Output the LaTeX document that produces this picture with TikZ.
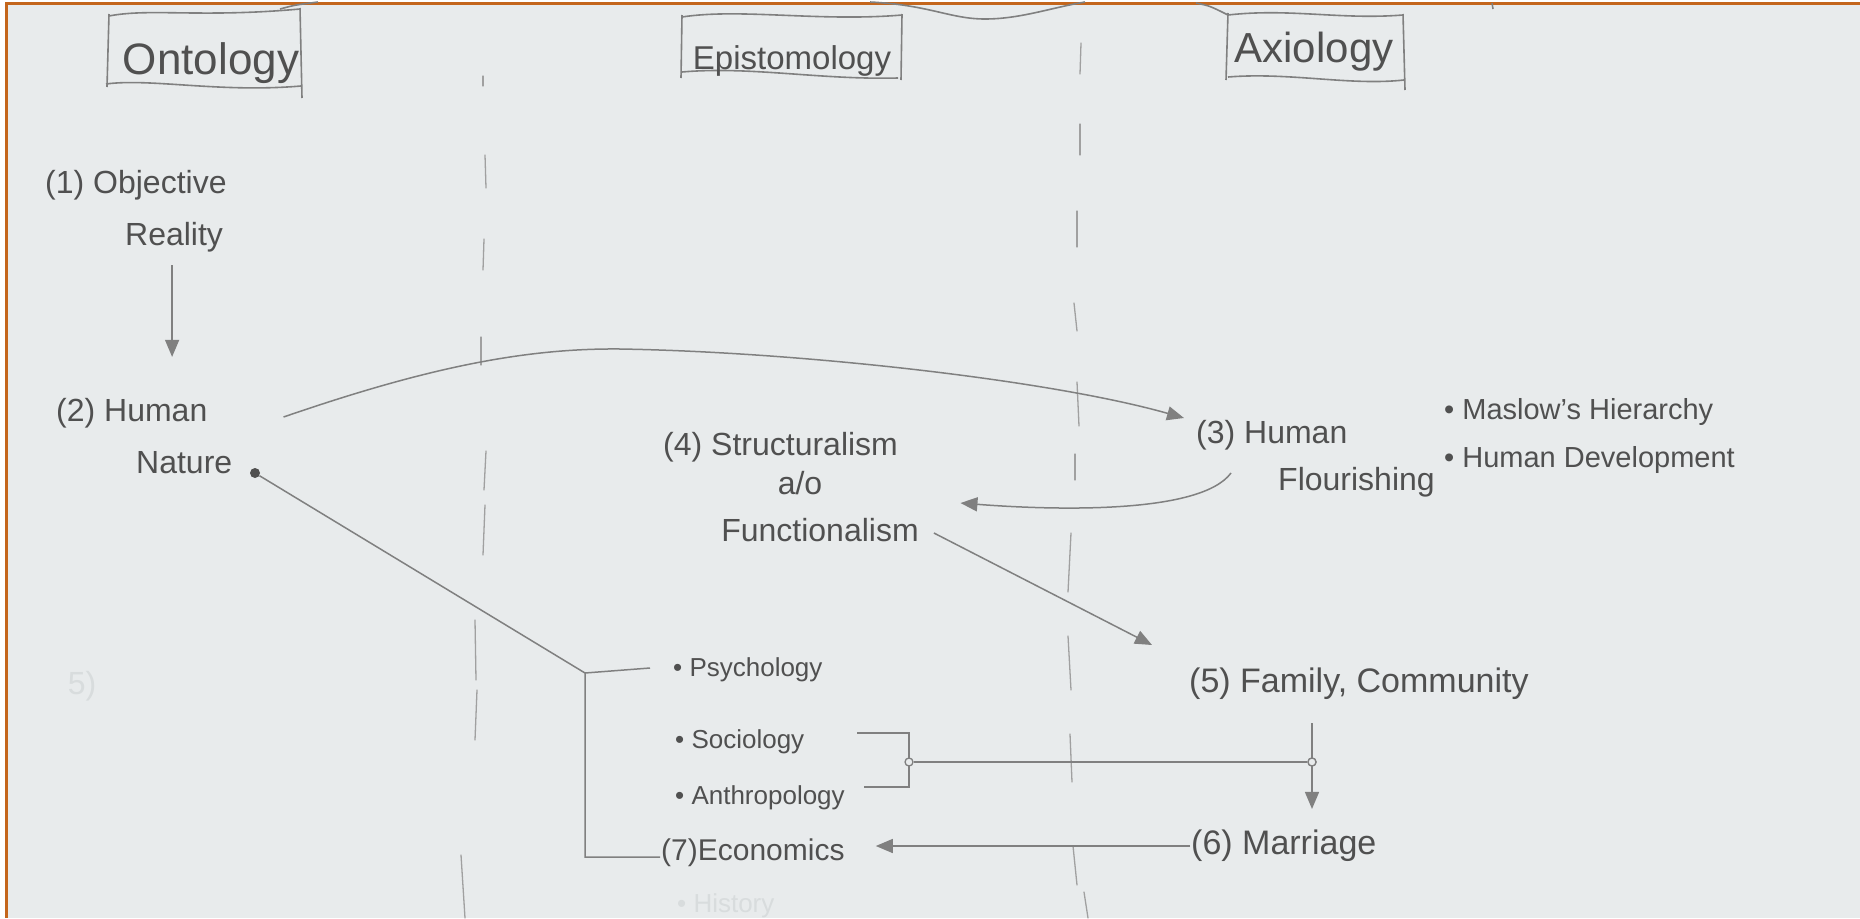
\documentclass[tikz,border=0pt]{standalone}
\usepackage{fontspec}
\setmainfont{Liberation Sans}
\usetikzlibrary{arrows.meta,calc}
\definecolor{paper}{HTML}{E8EBEC}
\definecolor{frame}{HTML}{C4661C}
\definecolor{pencil}{HTML}{505050}
\definecolor{lead}{HTML}{808080}
\definecolor{ghost}{HTML}{D8DCDD}
\begin{document}
\begin{tikzpicture}[x=1pt,y=-1pt,
  every node/.style={text=pencil, inner sep=1pt},
  head/.style={font=\fontsize{#1}{#1}\selectfont},
  lbl/.style={font=\fontsize{32}{36}\selectfont, anchor=west},
  big/.style={font=\fontsize{34}{38}\selectfont, anchor=west},
  mid/.style={font=\fontsize{32}{36}\selectfont},
  item/.style={font=\fontsize{29}{32}\selectfont, anchor=west},
  sci/.style={font=\fontsize{26}{30}\selectfont, anchor=west},
  link/.style={draw=lead, line width=1.5pt},
  arr/.style={link, -{Triangle[length=17pt,width=14pt]}},
  banner/.style={draw=lead, line width=1.6pt},
  divider/.style={draw=lead!75, line width=1.3pt, line cap=round},
  joint/.style={circle, draw=lead, fill=paper, line width=1.3pt, minimum size=8pt, inner sep=0pt},
  dotn/.style={circle, fill=pencil, minimum size=10pt, inner sep=0pt},
  faint/.style={text=ghost}
]
% paper and frame
\useasboundingbox (0,0) rectangle (1860,918);
\fill[white] (0,0) rectangle (1860,918);
\fill[paper] (8,5) rectangle (1860,918);
\fill[frame] (5,2) rectangle (8,918);
\fill[frame] (5,2) rectangle (1860,5);

% column dividers
\foreach \xa/\ya/\xb/\yb in {483/76/483/86, 485/155/486/188, 484/239/483/270, 481/337/481/365,
  486/451/484/490, 485/505/483/555, 475/620/476/680, 477/690/475/740, 461/855/465/918}
  \draw[divider] (\xa,\ya) -- (\xb,\yb);
\foreach \xa/\ya/\xb/\yb in {1081/43/1080/74, 1080/124/1080/155, 1077/211/1077/247, 1074/303/1077/331,
  1077/382/1079/426, 1075/454/1075/480, 1071/533/1068/592, 1068/636/1071/690, 1070/734/1072/782,
  1073/846/1077/885, 1084/892/1088/918}
  \draw[divider] (\xa,\ya) -- (\xb,\yb);

% banners
\draw[banner] (109,16) .. controls (150,8) and (200,18) .. (300,9);
\draw[banner] (106,84) .. controls (150,78) and (220,93) .. (301,86);
\draw[banner] (109,14) -- (107,87);
\draw[banner] (300,8) -- (302,98);
\draw[banner] (280,9) .. controls (295,5) .. (318,2);
\node[head=44] (ont) at (211,63) {Ontology};

\draw[banner] (682,17) .. controls (740,8) and (820,22) .. (902,15);
\draw[banner] (682,72) .. controls (750,66) and (820,80) .. (898,78);
\draw[banner] (682,15) -- (681,78);
\draw[banner] (902,14) -- (901,80);
\node[head=33] (epi) at (792,61) {Epistomology};

\draw[banner] (1228,15) .. controls (1290,8) and (1340,20) .. (1403,15);
\draw[banner] (1228,77) .. controls (1290,72) and (1350,86) .. (1404,80);
\draw[banner] (1228,13) -- (1226,80);
\draw[banner] (1403,14) -- (1405,90);
\node[head=42] (axi) at (1314,52) {Axiology};

% top stray strokes
\draw[banner] (870,2) .. controls (930,5) and (950,19) .. (985,19) .. controls (1020,19) and (1050,8) .. (1085,2);
\draw[banner] (1196,3) .. controls (1210,6) .. (1228,15);
\draw[banner] (1492,3) -- (1493,9);

% faint erased marks
\node[mid, faint] (erased5) at (82,686) {5)};
\node[sci, faint] (hist) at (676,906) {• History};

% nodes
\node[lbl] (n1a) at (44,185) {(1) Objective};
\node[lbl] (n1b) at (124,237) {Reality};
\node[lbl] (n2a) at (55,413) {(2) Human};
\node[lbl] (n2b) at (135,463) {Nature};
\node[dotn] (d2) at (255,473) {};

\node[lbl] (n3a) at (1195,435) {(3) Human};
\node[lbl] (n3b) at (1277,482) {Flourishing};
\node[item] (n3m) at (1443,412) {• Maslow's Hierarchy};
\node[item] (n3d) at (1443,460) {• Human Development};

\node[lbl] (n4a) at (662,447) {(4) Structuralism};
\node[mid] (n4b) at (800,483) {a/o};
\node[mid] (n4c) at (820,530) {Functionalism};

\node[big] (n5) at (1188,684) {(5) Family, Community};
\node[big] (n6) at (1190,846) {(6) Marriage};
\node[lbl, font=\fontsize{30}{34}\selectfont] (n7) at (660,853) {(7)Economics};

\node[sci] (psy) at (672,670) {• Psychology};
\node[sci] (soc) at (674,742) {• Sociology};
\node[sci] (ant) at (674,798) {• Anthropology};

% connectors
\draw[arr] (n1b.south) ++(-2,12) -- ($(n1b.south |- n2a.north)+(-2,-40)$);
\draw[arr] ($(n2a.east)+(75,4)$) .. controls (420,370) and (520,348) .. (620,349)
   .. controls (800,352) and (1050,380) .. ($(n3a.west)+(-11,-17)$);
\draw[arr] ($(n3a.west)+(36,38)$) .. controls (1200,515) and (1050,510) .. ($(n4b.east)+(137,20)$);
\draw[arr] ($(n4c.east)+(14,3)$) -- ($(n5.west)+(-36,-39)$);

\coordinate (bend) at (585,673);
\draw[link] (d2) -- (bend) |- ($(n7.west)+(0,4)$);
\draw[link] (bend) -- ($(psy.west)+(-22,-2)$);

\coordinate (b1) at (857,733);
\coordinate (b2) at (864,787);
\coordinate (jb) at (909,762);
\draw[link] (b1) -| (jb) |- (b2);
\node[joint] (J2) at (jb) {};
\node[joint] (J1) at (1312,762) {};
\draw[link] (J2) -- (J1);
\draw[arr] (J1 |- n5.south) ++(0,22) -- ($(J1 |- n6.north)+(0,-20)$);
\node[joint] at (J1) {};
\draw[arr] (n6.west) -- ($(n7.east)+(30,-7)$);
\end{tikzpicture}
\end{document}
